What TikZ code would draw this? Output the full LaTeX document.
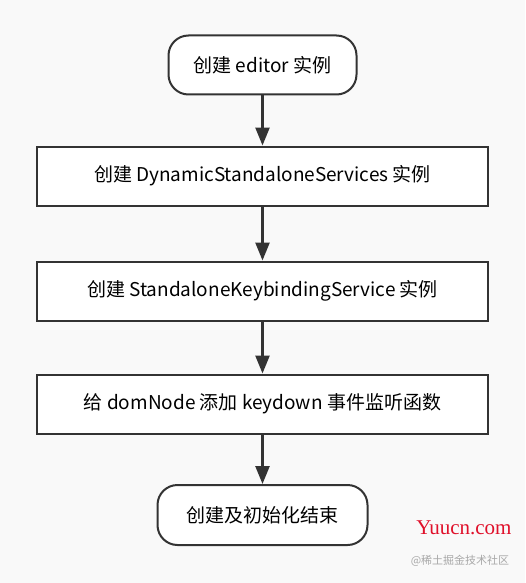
\documentclass[tikz,border=0pt]{standalone}
\usepackage{fontspec}
\setmainfont{Noto Sans CJK SC}
\newfontfamily\wmfont{Liberation Serif}
\usetikzlibrary{arrows.meta}
\definecolor{fond}{HTML}{F9F9F9}
\definecolor{trait}{HTML}{333333}
\definecolor{rouge}{HTML}{E0102A}
\definecolor{gris}{HTML}{A8A8A8}
\tikzset{
  etape/.style={draw=trait, line width=2pt, fill=white, inner sep=0pt,
    minimum width=451pt, minimum height=59pt, font=\fontsize{19}{22}\selectfont},
  bout/.style={etape, rounded corners=20pt},
  fleche/.style={draw=trait, line width=2.5pt, -{Triangle[length=18pt,width=14pt]}}
}
\begin{document}
\begin{tikzpicture}[x=1pt,y=-1pt]
  \pgfmathsetmacro{\milieu}{262.5}
  \fill[fond] (0,0) rectangle (525,583);
  \useasboundingbox (0,0) rectangle (525,583);
  % les etapes
  \node[bout, minimum width=188pt] (debut) at (\milieu,65) {创建 editor 实例};
  \node[etape] (services) at (\milieu,176) {创建 DynamicStandaloneServices 实例};
  \node[etape] (clavier) at (\milieu,291) {创建 StandaloneKeybindingService 实例};
  \node[etape] (ecoute) at (\milieu,404) {给 domNode 添加 keydown 事件监听函数};
  \node[bout, minimum width=210pt, minimum height=60pt] (fin) at (\milieu,515) {创建及初始化结束};
  % les fleches
  \draw[fleche] (debut) -- (services);
  \draw[fleche] (services) -- (clavier);
  \draw[fleche] (clavier) -- (ecoute);
  \draw[fleche] (ecoute) -- (fin);
  % filigrane
  \node[text=rouge, font=\wmfont\fontsize{21}{24}\selectfont, inner sep=0pt] (site) at (464,528) {Yuucn.com};
  \node[text=gris, font=\fontsize{11}{13}\selectfont, inner sep=0pt] (signe) at (460,561) {@稀土掘金技术社区};
\end{tikzpicture}
\end{document}
